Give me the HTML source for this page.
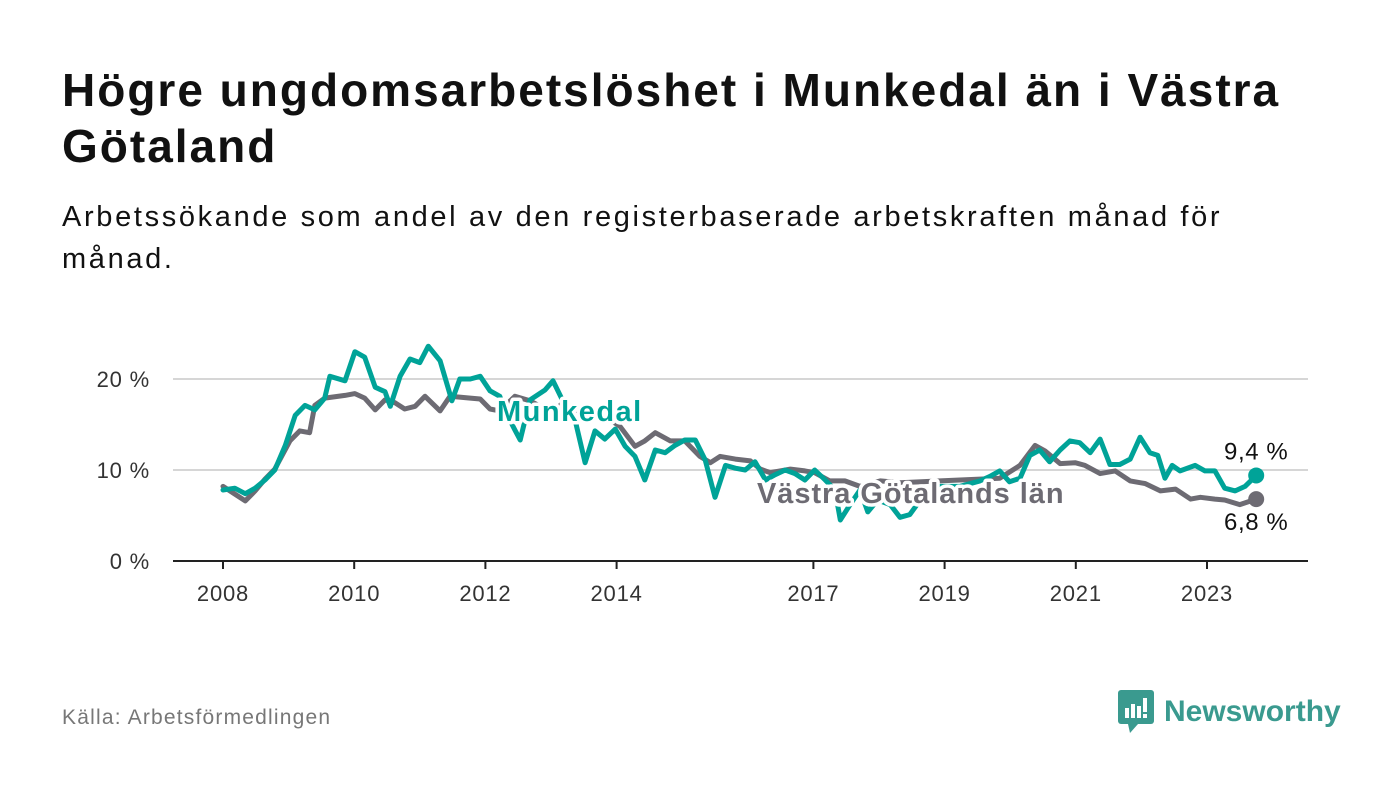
<!DOCTYPE html>
<html><head><meta charset="utf-8"><style>
body{margin:0;width:1400px;height:794px;background:#fff;font-family:"Liberation Sans","DejaVu Sans",sans-serif;overflow:hidden;position:relative}
#title{position:absolute;left:62px;top:62px;font-size:46px;font-weight:bold;color:#111;line-height:56px;letter-spacing:2px;white-space:nowrap}
#sub{position:absolute;left:62px;top:196px;font-size:29px;color:#111;line-height:42px;letter-spacing:2.65px;white-space:nowrap}
#src{position:absolute;left:62px;top:706px;font-size:21px;color:#777;letter-spacing:1.2px}
#logo{position:absolute;left:1118px;top:690px;display:flex;align-items:center}
#logo span{font-size:30px;font-weight:bold;color:#3a9a8f;margin-left:10px}
svg{position:absolute;left:0;top:0}
</style></head><body>
<div id="title">Högre ungdomsarbetslöshet i Munkedal än i Västra<br>Götaland</div>
<div id="sub">Arbetssökande som andel av den registerbaserade arbetskraften månad för<br>månad.</div>
<div id="src">Källa: Arbetsförmedlingen</div>
<div id="logo">
<svg width="36" height="44" viewBox="0 0 36 44" style="position:static"><rect x="0" y="0" width="36" height="34" rx="3" fill="#3a9a8f"/><polygon points="10,34 20,34 12,43" fill="#3a9a8f"/><rect x="7" y="18" width="4" height="10" fill="#fff"/><rect x="13" y="14" width="4" height="14" fill="#fff"/><rect x="19" y="16" width="4" height="12" fill="#fff"/><rect x="25" y="8" width="4" height="14" fill="#fff"/><rect x="25" y="24" width="4" height="4" fill="#fff"/></svg>
<span>Newsworthy</span></div>
<svg id="chart" width="1400" height="794"></svg>
<script>
const yTicks=[0,10,20];
const yTickLabels=["0 %","10 %","20 %"];
const xTicks=[2008,2010,2012,2014,2017,2019,2021,2023];
const munYears=[2008.00,2008.18,2008.34,2008.49,2008.64,2008.79,2008.95,2009.10,2009.25,2009.40,2009.55,2009.63,2009.86,2010.01,2010.16,2010.32,2010.47,2010.55,2010.70,2010.85,2011.00,2011.13,2011.31,2011.49,2011.61,2011.77,2011.92,2012.07,2012.22,2012.30,2012.45,2012.53,2012.68,2012.91,2013.03,2013.18,2013.37,2013.52,2013.67,2013.82,2013.98,2014.13,2014.28,2014.43,2014.59,2014.74,2014.89,2015.04,2015.20,2015.35,2015.50,2015.66,2015.81,2015.96,2016.11,2016.27,2016.42,2016.57,2016.72,2016.87,2017.02,2017.18,2017.33,2017.41,2017.56,2017.71,2017.83,2017.98,2018.17,2018.32,2018.47,2018.63,2018.93,2019.23,2019.54,2019.69,2019.84,2019.99,2020.15,2020.30,2020.45,2020.60,2020.76,2020.91,2021.06,2021.22,2021.37,2021.52,2021.67,2021.83,2021.98,2022.13,2022.25,2022.36,2022.47,2022.59,2022.82,2022.97,2023.12,2023.27,2023.43,2023.58,2023.75];
const munValues=[7.8,8.0,7.4,8.0,8.9,10.0,12.7,16.0,17.1,16.6,17.9,20.3,19.8,23.0,22.4,19.1,18.6,17.0,20.3,22.2,21.8,23.6,22.0,17.6,20.0,20.0,20.3,18.7,18.1,16.5,14.4,13.3,17.7,18.8,19.8,17.6,15.4,10.8,14.3,13.4,14.5,12.6,11.5,8.9,12.2,11.9,12.7,13.3,13.3,11.1,7.0,10.5,10.2,10.0,10.9,8.9,9.5,10.0,9.6,8.9,10.0,8.9,7.8,4.5,6.2,7.8,5.4,6.7,6.2,4.8,5.1,6.7,8.2,8.2,8.8,9.3,9.9,8.7,9.1,11.6,12.2,10.9,12.2,13.2,13.0,11.9,13.4,10.6,10.6,11.2,13.6,11.9,11.6,9.1,10.5,9.9,10.5,9.9,9.9,8.0,7.7,8.2,9.4];
const vgYears=[2008.00,2008.34,2008.49,2008.64,2008.79,2009.02,2009.17,2009.32,2009.40,2009.55,2009.86,2010.01,2010.16,2010.32,2010.47,2010.62,2010.77,2010.93,2011.08,2011.31,2011.46,2011.77,2011.92,2012.07,2012.22,2012.45,2012.68,2012.91,2013.06,2013.21,2013.37,2013.60,2013.82,2014.05,2014.28,2014.43,2014.59,2014.82,2015.04,2015.27,2015.43,2015.58,2015.81,2016.04,2016.19,2016.34,2016.65,2016.87,2017.02,2017.25,2017.48,2017.71,2018.02,2018.32,2018.93,2019.84,2020.15,2020.38,2020.53,2020.76,2020.99,2021.14,2021.37,2021.60,2021.83,2022.06,2022.29,2022.52,2022.75,2022.90,2023.12,2023.27,2023.50,2023.75];
const vgValues=[8.2,6.6,7.7,9.0,10.1,13.2,14.3,14.1,17.1,17.9,18.2,18.4,17.9,16.6,17.7,17.4,16.7,17.0,18.1,16.5,18.1,17.9,17.8,16.7,16.5,18.1,17.6,16.7,16.5,17.6,16.5,15.9,15.9,14.8,12.6,13.2,14.1,13.2,13.2,11.5,10.8,11.5,11.2,11.0,10.1,9.7,10.1,9.9,9.7,8.8,8.8,8.2,8.8,8.6,8.8,9.1,10.5,12.7,12.1,10.7,10.8,10.5,9.6,9.9,8.8,8.5,7.7,7.9,6.8,7.0,6.8,6.7,6.2,6.8];
const NS="http://www.w3.org/2000/svg",svg=document.getElementById('chart');
const X0=173,X1=1308,y0=561;
function xs(yr){return 223+(yr-2008)*65.6;}
function ys(v){return y0-v*9.1;}
function mk(t,a){const e=document.createElementNS(NS,t);for(const k in a)e.setAttribute(k,a[k]);svg.appendChild(e);return e;}
yTicks.forEach((t,i)=>{
 const g=mk('line',{x1:X0,x2:X1,y1:ys(t),y2:ys(t),stroke:t===0?'#222':'#d6d6d6','stroke-width':2});
 
 
 const l=mk('text',{x:150,y:ys(t)+8,'text-anchor':'end','font-size':22,fill:'#333','letter-spacing':0.8});l.textContent=yTickLabels[i];
 
 
});
xTicks.forEach(t=>{
 const tk=mk('line',{x1:xs(t),x2:xs(t),y1:y0,y2:y0+8,stroke:'#222','stroke-width':2});
 
 
 const l=mk('text',{x:xs(t),y:601,'text-anchor':'middle','font-size':22,fill:'#333','letter-spacing':0.8});l.textContent=t;
 
 
});
function line(yrs,vals,col,name){
 const d=yrs.map((y,i)=>(i?'L':'M')+xs(y).toFixed(1)+','+ys(vals[i]).toFixed(1)).join('');
 const p=mk('path',{d:d,fill:'none',stroke:col,'stroke-width':5,'stroke-linejoin':'round','stroke-linecap':'round'});
 
 
 const n=yrs.length-1;
 const c=mk('circle',{cx:xs(yrs[n]),cy:ys(vals[n]),r:8,fill:col});
 
 
}
line(vgYears,vgValues,'#6d6b73','vastra-gotaland-line');
line(munYears,munValues,'#00a398','munkedal-line');
function lbl(x,y,txt,col,fs,name,anchor,ls){
 const t=mk('text',{x:x,y:y,'font-size':fs,fill:col,'text-anchor':anchor||'start',stroke:'#fff','stroke-width':anchor?5:7,'paint-order':'stroke','font-weight':anchor?'normal':'bold','stroke-linejoin':'round','letter-spacing':ls||0});
 t.textContent=txt;
 
 
}
lbl(497,421,'Munkedal','#00a398',29,'munkedal-label',null,1.5);
lbl(757,503,'Västra Götalands län','#6d6b73',29,'vastra-gotaland-label',null,0.95);
const nm=munValues.length-1,nv=vgValues.length-1;
lbl(xs(munYears[nm]),ys(munValues[nm])-16,munValues[nm].toString().replace('.',',')+' %','#111',24,'munkedal-end-value','middle',0.6);
lbl(xs(vgYears[nv]),ys(vgValues[nv])+31,vgValues[nv].toString().replace('.',',')+' %','#111',24,'vastra-gotaland-end-value','middle',0.6);
</script>
</body></html>
